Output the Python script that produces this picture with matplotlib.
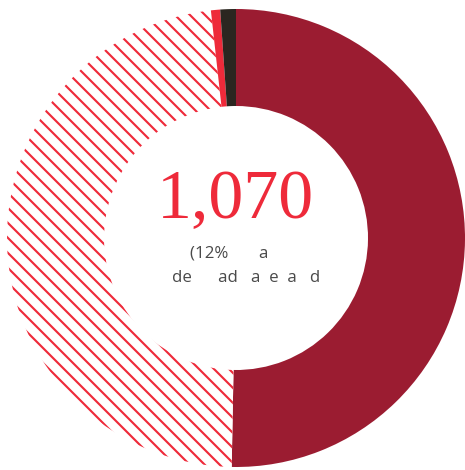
import numpy as np
import matplotlib
matplotlib.use("Agg")
import matplotlib.pyplot as plt
from matplotlib.collections import LineCollection

# share of the ring, clockwise from 12 o'clock
labels = ["main", "hatched", "small", "other"]
shares = [50.3, 47.95, 0.65, 1.1]
colors = ["#9b1c31", "white", "#ee2a3a", "#2b2620"]
hatched = [False, True, False, False]

big_number = "1,070"
sub_line1 = "(12%       a"
sub_line2 = "de      ad   a  e  a   d"

W, H, DPI = 465, 470, 90
fig = plt.figure(figsize=(W / DPI, H / DPI), dpi=DPI)
ax = fig.add_axes([0, 0, 1, 1])

cx, cy, r_px = 236, 238, 229

wedges, _ = ax.pie(shares, colors=colors, startangle=90, counterclock=False,
                   radius=1.0, wedgeprops=dict(width=97 / r_px, linewidth=0))
ax.set_xlim(-cx / r_px, (W - cx) / r_px)
ax.set_ylim(-(H - cy) / r_px, cy / r_px)
ax.axis("off")

# agg's own hatch mis-clips this ring, so draw the stripes and clip them
step = 15 / r_px
offsets = np.arange(-123 / r_px - 40 * step, 2.5, step)
for w, h in zip(wedges, hatched):
    if h:
        segs = [[(-1.2, c + 1.2), (1.2, c - 1.2)] for c in offsets]
        lc = LineCollection(segs, colors="#ee2a3a", linewidths=1.7)
        ax.add_collection(lc)
        lc.set_clip_path(w)

ax.text(-0.004, 0.087, big_number, ha="center", va="baseline",
        fontsize=56, color="#ee2a3a", family="Liberation Serif")
ax.text(-0.03, -0.087, sub_line1, ha="center", va="baseline",
        fontsize=13.5, color="#4a4a4a", family="Open Sans")
ax.text(0.044, -0.192, sub_line2, ha="center", va="baseline",
        fontsize=13.5, color="#4a4a4a", family="Open Sans")

fig.savefig("out.png", dpi=DPI)
